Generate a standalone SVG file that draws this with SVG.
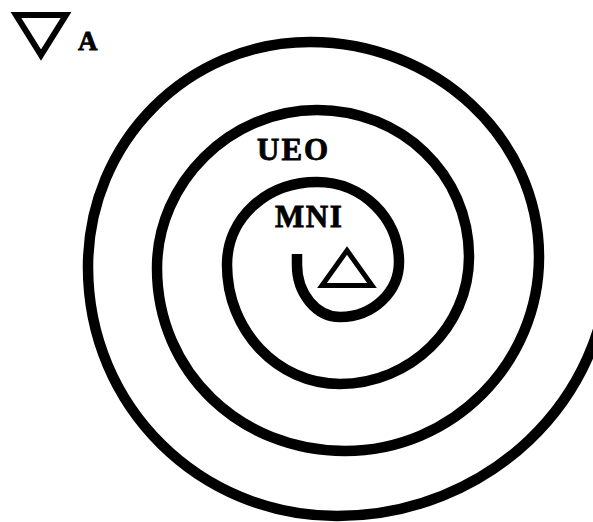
<svg xmlns="http://www.w3.org/2000/svg" width="593" height="522" viewBox="0 0 593 522">
<style>
.lbl{font-family:"Liberation Serif","DejaVu Serif",serif;font-weight:bold;fill:#000;stroke:#000;stroke-width:0.8}
.tri{fill:none;stroke:#000;stroke-linejoin:miter}
</style>
<rect width="593" height="522" fill="#fff"/>
<g id="connectors">
<path id="spiral" fill="none" stroke="#000" stroke-width="10.5" stroke-linecap="butt"
d="M297,254 L297,265
C297,293.2 316.2,317 340,317
C372.6,317 399,292.4 399,262
C399,217.8 362.3,182 317,182
C267.3,182 227,217.3 227,265
C227,330.7 277.6,384 340,384
C410.1,384 469,327.1 469,257
C469,173.6 401,110 317,110
C230.3,110 157,182.3 157,268
C157,373 241.2,451 345,451
C452.7,451 539,363 539,257
C539,137.2 435,42 310,42
C188,42 88,141.5 88,267
C88,407.5 200.5,516 337,516
C487.2,516 609,399.9 609,257"/>
</g>
<g id="node-A">
<polygon class="tri" points="16,15 66,15 41,55" stroke-width="6"/>
<text class="lbl" x="78" y="50" font-size="27">A</text>
</g>
<g id="node-UEO">
<text class="lbl" x="257" y="160" font-size="31" letter-spacing="2">UEO</text>
</g>
<g id="node-MNI">
<text class="lbl" x="275" y="227" font-size="31" letter-spacing="1.5">MNI</text>
</g>
<g id="node-center">
<polygon class="tri" points="347,250.5 372,285.5 322,285.5" stroke-width="5"/>
</g>
</svg>
